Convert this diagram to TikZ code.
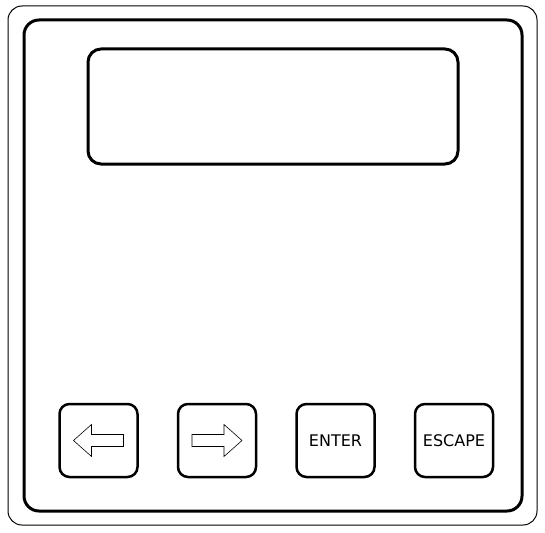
\documentclass[tikz,border=0pt]{standalone}
\usepackage{fontspec}
\setsansfont{DejaVu Sans}
\usepackage{tikz}
\usetikzlibrary{positioning}

\tikzset{
  frame/.style={draw, line width=1pt, rounded corners=14pt},
  panel/.style={draw, line width=3pt, rounded corners=15pt},
  display/.style={draw, line width=3pt, rounded corners=13pt, minimum width=370pt, minimum height=115pt, inner sep=0pt},
  key/.style={draw, line width=2.5pt, rounded corners=10pt, minimum width=78pt, minimum height=73pt, inner sep=0pt,
    font=\sffamily\fontsize{16}{16}\selectfont},
  keyarrow/.style={draw, line width=0.6pt, line join=miter}
}

\begin{document}
\begin{tikzpicture}[x=1pt,y=-1pt]
  \useasboundingbox (0,0) rectangle (545,532);
  \draw[frame] (8,6) rectangle (537,525);
  \draw[panel] (24,20) rectangle (522,511);
  \node[display] (lcd) at (273,106.5) {};

  \node[key] (left) at (98.5,440.5) {};
  \node[key, right=38pt of left] (right) {};
  \node[key, right=38pt of right] (enter) {ENTER};
  \node[key, right=38pt of enter] (escape) {ESCAPE};

  \draw[keyarrow, shift={(left.center)}]
    (-25,0) -- (-7,-16) -- (-7,-6) -- (25,-6) -- (25,6) -- (-7,6) -- (-7,16) -- cycle;
  \draw[keyarrow, shift={(right.center)}, xscale=-1]
    (-25,0) -- (-7,-16) -- (-7,-6) -- (25,-6) -- (25,6) -- (-7,6) -- (-7,16) -- cycle;
\end{tikzpicture}
\end{document}
